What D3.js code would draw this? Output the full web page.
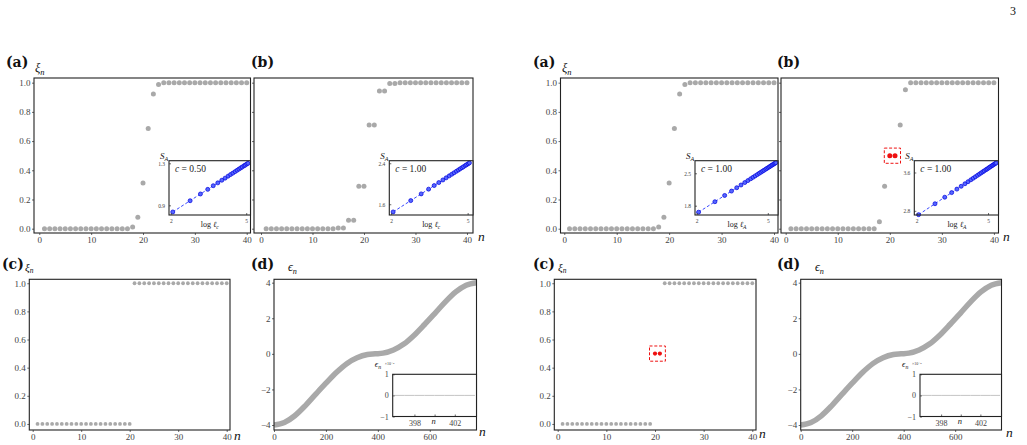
<!DOCTYPE html>
<html>
<head>
<meta charset="utf-8">
<script src="https://cdn.jsdelivr.net/npm/d3@7.9.0/dist/d3.min.js"></script>
<style>
body { margin: 0; background: #fff; }
svg { display: block; font-family: "Liberation Serif", "DejaVu Serif", serif; }
</style>
</head>
<body>
<svg id="fig" width="1027" height="445"></svg>
<script>
// ---- data ----
const sites = d3.range(1, 41);

// xi_n, panels (a) (both halves)
const xiA = [0,0,0,0,0,0,0,0,0,0,0,0,0,0,0,0,0,
  0.012,0.078,0.313,0.687,0.922,0.988,
  1,1,1,1,1,1,1,1,1,1,1,1,1,1,1,1,1];
// xi_n, left panel (b): pairs
const xiB = [0,0,0,0,0,0,0,0,0,0,0,0,0,0,
  0.005,0.005,0.057,0.057,0.29,0.29,0.71,0.71,0.943,0.943,0.995,0.995,
  1,1,1,1,1,1,1,1,1,1,1,1,1,1];
// xi_n, right panel (b): n=20,21 are the red ones
const xiBr = [0,0,0,0,0,0,0,0,0,0,0,0,0,0,0,0,0,
  0.048,0.29,null,null,0.71,0.952,
  1,1,1,1,1,1,1,1,1,1,1,1,1,1,1,1,1];
// xi_n, panels (c)
const xiC = [0,0,0,0,0,0,0,0,0,0,0,0,0,0,0,0,0,0,0,0,
  1,1,1,1,1,1,1,1,1,1,1,1,1,1,1,1,1,1,1,1];
const xiCr = [0,0,0,0,0,0,0,0,0,0,0,0,0,0,0,0,0,0,0,
  null,null,
  1,1,1,1,1,1,1,1,1,1,1,1,1,1,1,1,1,1,1];
const redN = [20, 21];
const redXi = [0.5, 0.5];

// insets S_A vs log l
const logL = [2.08,2.77,3.18,3.47,3.69,3.87,4.03,4.16,4.28,4.38,4.47,4.56,4.64,4.71,4.78,4.84,4.91,4.96,5.02,5.07];
const saLa = [0.837,0.944,1.008,1.052,1.087,1.114,1.139,1.159,1.178,1.194,1.207,1.221,1.234,1.245,1.256,1.265,1.276,1.283,1.293,1.300];
const saLb = [1.450,1.671,1.802,1.895,1.965,2.023,2.074,2.116,2.154,2.186,2.215,2.244,2.269,2.292,2.314,2.333,2.356,2.372,2.391,2.407];
const logLA = [2.08,2.77,3.18,3.47,3.69,3.87,4.03,4.16,4.28,4.38,4.47,4.56,4.64,4.71,4.78,4.84,4.91,4.96,5.02,5.07,5.12,5.17,5.21,5.26,5.30,5.34];
const saRa = [1.660,1.886,2.021,2.116,2.188,2.247,2.300,2.342,2.382,2.414,2.444,2.473,2.500,2.523,2.546,2.565,2.588,2.605,2.624,2.641,2.657,2.674,2.687,2.703,2.716,2.729];
const saRb = [2.720,2.948,3.084,3.180,3.253,3.312,3.365,3.408,3.448,3.481,3.511,3.541,3.567,3.591,3.614,3.634,3.657,3.673,3.693,3.710,3.726,3.743,3.756,3.773,3.786,3.799];

// panels (d): spectrum eps_n
const nEps = [0,40,80,120,160,200,240,280,320,360,390,420,460,500,540,580,620,660,700,740,780];
const eps = [-4.00,-3.86,-3.48,-2.92,-2.28,-1.65,-1.05,-0.55,-0.22,-0.04,0.00,0.04,0.22,0.55,1.05,1.65,2.28,2.92,3.48,3.86,4.00];
const nZoom = [396,397,398,399,400,401,402,403,404];
const epsZoom = [0,0,0,0,0,0,0,0,0];  // units of 1e-8

// ---- drawing ----
const svg = d3.select("#fig");
const GRAY = "#a9a9a9";
const TXT = "#444";

function scales(box, xDom, yDom) {
  return {
    x: d3.scaleLinear().domain(xDom).range([box.l, box.r]),
    y: d3.scaleLinear().domain(yDom).range([box.b, box.t]),
    box
  };
}

function axes(p, xt, yt, opts = {}) {
  const fs = opts.fs || 9;
  const gx = svg.append("g")
    .attr("transform", `translate(0,${p.box.b})`)
    .call(d3.axisBottom(p.x).tickValues(xt).tickSize(opts.inner ? -2 : 2)
      .tickPadding(opts.inner ? 4 : 1.5).tickFormat(opts.xf || d3.format("d")));
  gx.select(".domain").remove();
  const gy = svg.append("g")
    .attr("transform", `translate(${p.box.l},0)`)
    .call(d3.axisLeft(p.y).tickValues(yt).tickSize(opts.inner ? -2 : 2)
      .tickPadding(opts.inner ? 4 : 1.5).tickFormat(opts.noY ? "" : (opts.yf || d3.format(".1f"))));
  gy.select(".domain").remove();
  [gx, gy].forEach(g => {
    g.attr("font-family", null).attr("font-size", fs).attr("color", TXT);
    g.selectAll(".tick line").attr("stroke-width", 0.8);
  });
  return { gx, gy };
}

function frame(box, w) {
  svg.append("rect")
    .attr("x", box.l).attr("y", box.t)
    .attr("width", box.r - box.l).attr("height", box.b - box.t)
    .attr("fill", "none").attr("stroke", "#222").attr("stroke-width", w || 1.1);
}

function dots(p, xs, ys, r, color) {
  svg.append("g").selectAll("circle")
    .data(xs.map((d, i) => [d, ys[i]]).filter(d => d[1] !== null))
    .join("circle")
    .attr("cx", d => p.x(d[0])).attr("cy", d => p.y(d[1]))
    .attr("r", r).attr("fill", color);
}

function label(x, y, txt, sub, size, bold) {
  const t = svg.append("text").attr("x", x).attr("y", y)
    .attr("font-size", size).attr("fill", "#111");
  if (bold) t.attr("font-weight", "bold").attr("font-family", "DejaVu Serif");
  t.append("tspan").text(txt).attr("font-style", bold ? null : "italic");
  if (sub) t.append("tspan").text(sub).attr("font-size", size * 0.68)
    .attr("dy", size * 0.22).attr("font-style", "italic");
  return t;
}

function redBox(p) {
  dots(p, redN, redXi, p.rRed, "#ee1111");
  const x0 = p.x(redN[0]) - 5.5, x1 = p.x(redN[1]) + 5.5;
  const yc = p.y(redXi[0]);
  svg.append("rect").attr("x", x0).attr("y", yc - 7.6)
    .attr("width", x1 - x0).attr("height", 15.2)
    .attr("fill", "none").attr("stroke", "#ee1111").attr("stroke-width", 1)
    .attr("stroke-dasharray", "3,1.8");
}

function inset(box, xDom, yDom, xs, ys, yt, cTxt, sub) {
  const p = scales(box, xDom, yDom);
  svg.append("rect").attr("x", box.l).attr("y", box.t)
    .attr("width", box.r - box.l).attr("height", box.b - box.t).attr("fill", "#fff");
  const line = d3.line().x(d => p.x(d[0])).y(d => p.y(d[1]));
  const pts = xs.map((d, i) => [d, ys[i]]);
  svg.append("path").attr("d", line(pts)).attr("fill", "none")
    .attr("stroke", "#2233ff").attr("stroke-width", 0.9).attr("stroke-dasharray", "3,2");
  svg.append("g").selectAll("circle").data(pts).join("circle")
    .attr("cx", d => p.x(d[0])).attr("cy", d => p.y(d[1])).attr("r", 2)
    .attr("fill", "#5566ff").attr("stroke", "#0000dd").attr("stroke-width", 0.7);
  axes(p, [2, 5], yt, { fs: 5.5, inner: true, xf: d3.format("d"), yf: d3.format(".1f") });
  frame(box, 1.1);
  const t = svg.append("text").attr("x", box.l + 6).attr("y", box.t + 11)
    .attr("font-size", 9.5).attr("fill", "#222");
  t.append("tspan").text("c").attr("font-style", "italic");
  t.append("tspan").text(" = " + cTxt);
  label(box.l - 9, box.t - 2, "S", "A", 9);
  const lt = svg.append("text").attr("x", (box.l + box.r) / 2 - 9).attr("y", box.b + 12)
    .attr("font-size", 8).attr("fill", "#222");
  lt.append("tspan").text("log ");
  lt.append("tspan").text("\u2113").attr("font-style", "italic");
  lt.append("tspan").text(sub).attr("font-style", "italic").attr("font-size", 5.5).attr("dy", 2);
}

function epsPanel(p, ibox) {
  const cid = "clip" + Math.round(p.box.l);
  svg.append("clipPath").attr("id", cid).append("rect")
    .attr("x", p.box.l).attr("y", p.box.t)
    .attr("width", p.box.r - p.box.l).attr("height", p.box.b - p.box.t);
  const line = d3.line().x(d => p.x(d[0])).y(d => p.y(d[1])).curve(d3.curveMonotoneX);
  svg.append("path").attr("clip-path", `url(#${cid})`)
    .attr("d", line(nEps.map((d, i) => [d, eps[i]])))
    .attr("fill", "none").attr("stroke", GRAY).attr("stroke-width", 5.5);
  axes(p, [0, 200, 400, 600], [-4, -2, 0, 2, 4], { yf: d => d3.format("d")(d).replace("-", "\u2212") });
  frame(p.box);
  // zoomed inset
  const q = scales(ibox, [395.85, 404.15], [-1, 1]);
  svg.append("rect").attr("x", ibox.l).attr("y", ibox.t)
    .attr("width", ibox.r - ibox.l).attr("height", ibox.b - ibox.t).attr("fill", "#fff");
  svg.append("path")
    .attr("d", d3.line().x(d => q.x(d[0])).y(d => q.y(d[1]))(nZoom.map((d, i) => [d, epsZoom[i]])))
    .attr("fill", "none").attr("stroke", "#c4c4c4").attr("stroke-width", 1);
  axes(q, [398, 400, 402], [-1, 0, 1], {
    fs: 8, inner: true,
    xf: d => d === 400 ? "" : d3.format("d")(d),
    yf: d => d3.format("d")(d).replace("-", "\u2212")
  });
  frame(ibox, 1.1);
  svg.append("text").attr("x", q.x(400) - 3).attr("y", ibox.b + 7.5)
    .attr("font-size", 8.5).attr("font-style", "italic").attr("fill", "#222").text("n");
  label(ibox.l - 18, ibox.t - 7, "\u03f5", "n", 8.5);
  svg.append("text").attr("x", ibox.l - 8).attr("y", ibox.t - 9)
    .attr("font-size", 4).attr("fill", "#333").text("\u00d710\u207b\u2078");
}

// ---------- panel geometry ----------
const LA = scales({ l: 34, r: 250.5, t: 78, b: 233 }, [-1.02, 40.73], [-0.0295, 1.032]);
const LB = scales({ l: 254, r: 473, t: 78, b: 233 }, [-1.36, 41.17], [-0.0295, 1.032]);
const RA = scales({ l: 560.5, r: 778, t: 78, b: 233 }, [-0.72, 40.76], [-0.0295, 1.032]);
const RB = scales({ l: 781, r: 998.5, t: 78, b: 233 }, [-0.9, 40.88], [-0.0295, 1.032]);
const LC = scales({ l: 29.3, r: 230, t: 279.3, b: 430 }, [-0.7, 40.68], [-0.043, 1.028]);
const RC = scales({ l: 554.3, r: 756, t: 279.3, b: 430 }, [-0.7, 40.76], [-0.043, 1.028]);
const LD = scales({ l: 274, r: 476.5, t: 279.3, b: 430 }, [0, 780], [-4.28, 4.19]);
const RD = scales({ l: 800.7, r: 1001.5, t: 279.3, b: 430 }, [0, 780], [-4.28, 4.19]);
RB.rRed = 2.5; RC.rRed = 2.1;

const xt40 = [0, 10, 20, 30, 40];
const yt1 = [0, 0.2, 0.4, 0.6, 0.8, 1.0];

// (a) panels
[LA, RA].forEach(p => {
  dots(p, sites, xiA, 2.5, GRAY);
  axes(p, xt40, yt1);
  frame(p.box);
});
// (b) panels
dots(LB, sites, xiB, 2.5, GRAY);
axes(LB, xt40, yt1, { noY: true });
frame(LB.box);
dots(RB, sites, xiBr, 2.5, GRAY);
axes(RB, xt40, yt1, { noY: true });
frame(RB.box);
redBox(RB);

inset({ l: 169, r: 250.5, t: 160.7, b: 215 }, [1.93, 5.17], [0.808, 1.325], logL, saLa, [0.9, 1.3], "0.50", "c");
inset({ l: 389.3, r: 473, t: 160.7, b: 215 }, [1.93, 5.21], [1.39, 2.45], logL, saLb, [1.6, 2.4], "1.00", "c");
inset({ l: 695, r: 778, t: 160.7, b: 215 }, [1.93, 5.43], [1.599, 2.772], logLA, saRa, [1.8, 2.5], "1.00", "A");
inset({ l: 914.3, r: 998.5, t: 160.7, b: 215 }, [1.9, 5.44], [2.713, 3.846], logLA, saRb, [2.8, 3.6], "1.00", "A");

// (c) panels
dots(LC, sites, xiC, 1.9, GRAY);
axes(LC, xt40, yt1);
frame(LC.box);
dots(RC, sites, xiCr, 1.9, GRAY);
axes(RC, xt40, yt1);
frame(RC.box);
redBox(RC);

// (d) panels
epsPanel(LD, { l: 392.7, r: 476.5, t: 374.3, b: 416.5 });
epsPanel(RD, { l: 920, r: 1001.5, t: 374.3, b: 416.5 });

// panel letters and axis labels
const letters = [
  ["(a)", 6, 67], ["(b)", 251, 67], ["(a)", 533, 67], ["(b)", 777, 67],
  ["(c)", 2, 269], ["(d)", 251, 269], ["(c)", 533, 269], ["(d)", 777, 269]
];
letters.forEach(([t, x, y]) => label(x, y, t, null, 14, true));

label(35, 72, "\u03be", "n", 12.5);
label(562, 72, "\u03be", "n", 12.5);
label(25, 271, "\u03be", "n", 11);
label(558, 271, "\u03be", "n", 11);
label(288, 271, "\u03f5", "n", 12);
label(815, 271, "\u03f5", "n", 12);

[[478, 241], [1003, 241], [234, 440], [759, 438], [479, 436], [1006, 437]].forEach(([x, y]) =>
  svg.append("text").attr("x", x).attr("y", y).attr("font-size", 13.5)
    .attr("font-style", "italic").attr("fill", "#111").text("n"));

svg.append("text").attr("x", 1010).attr("y", 15).attr("font-size", 12).attr("fill", "#111").text("3");
</script>
</body>
</html>
